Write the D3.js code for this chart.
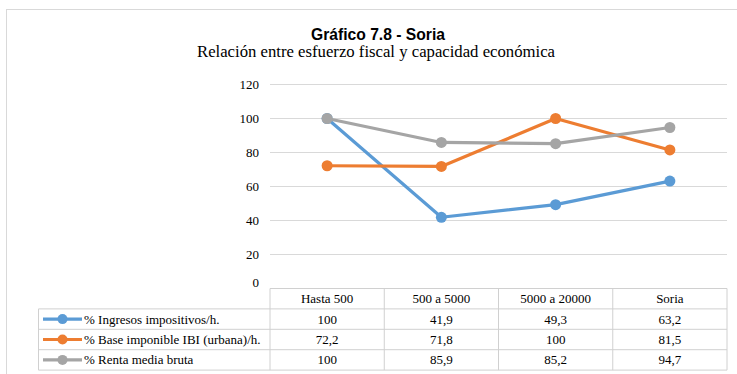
<!DOCTYPE html>
<html>
<head>
<meta charset="utf-8">
<script src="https://cdn.jsdelivr.net/npm/d3@7"></script>
<style>
  html, body { margin: 0; padding: 0; background: #fff; }
  svg { display: block; }
  svg text.serif { font-family: 'Liberation Serif', 'Times New Roman', serif; }
</style>
</head>
<body>
<svg id="chart" width="737" height="374"></svg>
<script>
// Categories (municipality size bands) and series values
const categories = ["Hasta 500", "500 a 5000", "5000 a 20000", "Soria"];
const seriesNames = ["% Ingresos impositivos/h.", "% Base imponible IBI (urbana)/h.", "% Renta media bruta"];
const ingresos = [100, 41.9, 49.3, 63.2];
const baseIBI = [72.2, 71.8, 100, 81.5];
const renta = [100, 85.9, 85.2, 94.7];
const yTicks = [0, 20, 40, 60, 80, 100, 120];
const colors = ["#5B9BD5", "#ED7D31", "#A5A5A5"];

const series = [ingresos, baseIBI, renta].map((values, i) => ({
  name: seriesNames[i], values, color: colors[i]
}));

const svg = d3.select("#chart");
const serif = "Liberation Serif";
const fs = 13;
const fmt = v => String(v).replace(".", ",");

// Chart area frame
svg.append("rect")
  .attr("x", 6.5).attr("y", 9.5).attr("width", 740).attr("height", 380)
  .attr("fill", "#fff").attr("stroke", "#d9d9d9");

// Titles
svg.append("text")
  .attr("x", 311).attr("y", 40)
  .attr("textLength", 134).attr("lengthAdjust", "spacingAndGlyphs")
  .attr("font-family", "Liberation Sans").attr("font-weight", "bold")
  .attr("font-size", 16).attr("fill", "#000")
  .text("Gráfico 7.8 - Soria");
svg.append("text").attr("class", "serif")
  .attr("x", 197).attr("y", 57)
  .attr("textLength", 358).attr("lengthAdjust", "spacingAndGlyphs")
  .attr("font-family", serif).attr("font-size", 16.5).attr("fill", "#000")
  .text("Relación entre esfuerzo fiscal y capacidad económica");

// Scales
const x = d3.scaleBand().domain(categories).range([270, 727]);
const y = d3.scaleLinear().domain([0, 120]).range([288.5, 84.5]);

// Gridlines
svg.append("g").selectAll("line").data(yTicks.filter(t => t > 0)).join("line")
  .attr("x1", 270).attr("x2", 727)
  .attr("y1", d => y(d)).attr("y2", d => y(d))
  .attr("stroke", "#d9d9d9").attr("stroke-width", 1);

// Y axis labels
const yAxis = d3.axisLeft(y).tickValues(yTicks).tickSize(0).tickPadding(0);
const gy = svg.append("g").attr("transform", "translate(259,0)").call(yAxis)
  .attr("font-family", serif).attr("font-size", fs);
gy.select(".domain").remove();
gy.selectAll("text").attr("class", "serif").attr("fill", "#000");
gy.selectAll(".tick").filter(d => d === 0).select("text").attr("dy", "-0.15em");

// Lines and markers
const cxOf = i => x(categories[i]) + x.bandwidth() / 2;
const line = d3.line().x((d, i) => cxOf(i)).y(d => y(d));

const gS = svg.append("g");
series.forEach(s => {
  gS.append("path").datum(s.values)
    .attr("d", line).attr("fill", "none")
    .attr("stroke", s.color).attr("stroke-width", 3.2).attr("stroke-linejoin", "round");
  gS.selectAll(null).data(s.values).join("circle")
    .attr("cx", (d, i) => cxOf(i))
    .attr("cy", d => y(d)).attr("r", 5.5).attr("fill", s.color);
});

// Data table
const rowTop = 288.5, rowH = 20.4, legendLeft = 38.5;
const tbl = svg.append("g").attr("font-family", serif).attr("font-size", fs);
const gridColor = "#d0d0d0";

tbl.append("line").attr("x1", 270).attr("x2", 727).attr("y1", rowTop).attr("y2", rowTop).attr("stroke", gridColor);
for (let r = 1; r <= 4; r++) {
  tbl.append("line").attr("x1", legendLeft).attr("x2", 727)
    .attr("y1", rowTop + r * rowH).attr("y2", rowTop + r * rowH).attr("stroke", gridColor);
}
const colEdges = categories.map(c => x(c)).concat([x.range()[1]]);
colEdges.forEach(cx => {
  tbl.append("line").attr("x1", cx).attr("x2", cx)
    .attr("y1", rowTop).attr("y2", rowTop + 4 * rowH).attr("stroke", gridColor);
});
tbl.append("line").attr("x1", legendLeft).attr("x2", legendLeft)
  .attr("y1", rowTop + rowH).attr("y2", rowTop + 4 * rowH).attr("stroke", gridColor);

// Header text
tbl.selectAll(".hdr").data(categories).join("text")
  .attr("class", "serif hdr")
  .attr("x", d => x(d) + x.bandwidth() / 2).attr("y", rowTop + rowH / 2 + 4.5)
  .attr("text-anchor", "middle").attr("fill", "#000")
  .text(d => d);

// Body rows: legend key, series name and values
series.forEach((s, r) => {
  const cy = rowTop + (r + 1) * rowH + rowH / 2;
  tbl.append("line").attr("x1", 43).attr("x2", 82).attr("y1", cy).attr("y2", cy)
    .attr("stroke", s.color).attr("stroke-width", 3.2);
  tbl.append("circle").attr("cx", 62.5).attr("cy", cy).attr("r", 5).attr("fill", s.color);
  tbl.append("text").attr("class", "serif").attr("x", 84).attr("y", cy + 4.5)
    .attr("fill", "#000").text(s.name);
  tbl.selectAll(null).data(s.values).join("text").attr("class", "serif")
    .attr("x", (d, i) => cxOf(i)).attr("y", cy + 4.5)
    .attr("text-anchor", "middle").attr("fill", "#000")
    .text(d => fmt(d));
});
</script>
</body>
</html>
